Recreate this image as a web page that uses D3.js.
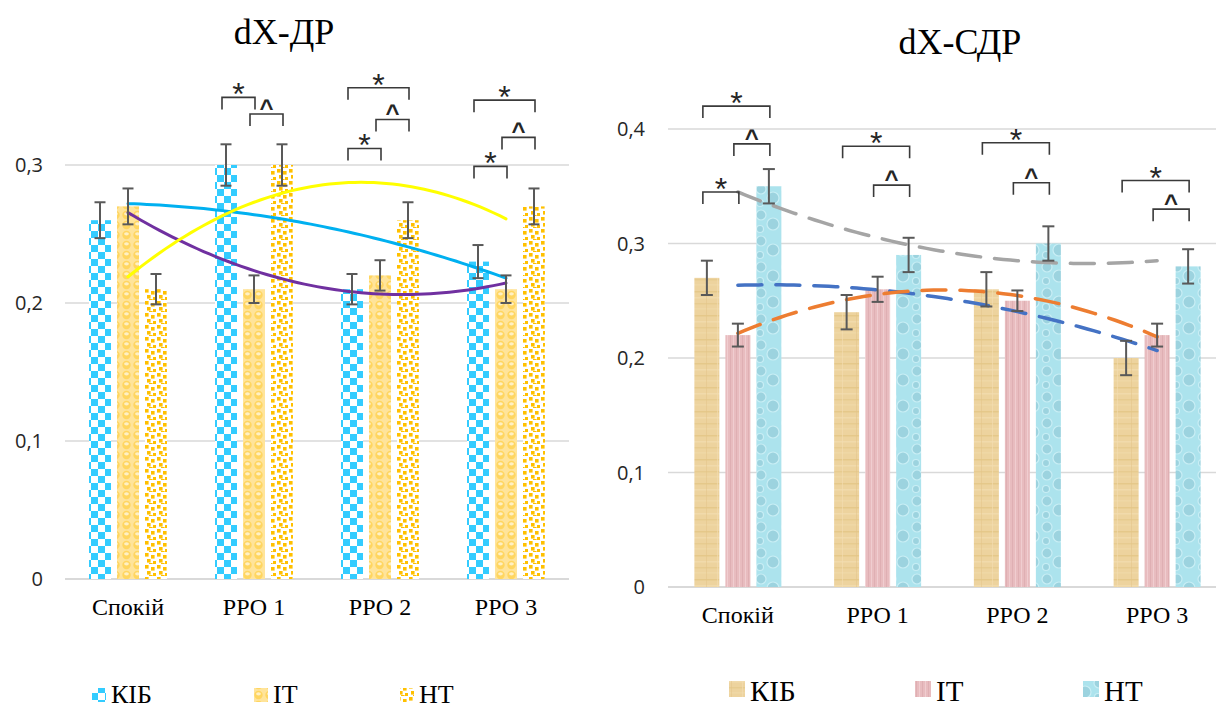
<!DOCTYPE html>
<html>
<head>
<meta charset="utf-8">
<script src="https://cdn.jsdelivr.net/npm/d3@7"></script>
<style>
  body { margin: 0; background: #fff; }
  svg { display: block; }
</style>
</head>
<body>
<svg id="chart" width="1216" height="709"></svg>
<script>
// ---------- data ----------
const categories = ["Спокій", "РРО 1", "РРО 2", "РРО 3"];
const seriesNames = ["КІБ", "ІТ", "НТ"];

// dX-ДР
const drKIB = [0.26, 0.30, 0.21, 0.23];
const drIT  = [0.27, 0.21, 0.22, 0.21];
const drNT  = [0.21, 0.30, 0.26, 0.27];
const drKIBErr = [0.013, 0.015, 0.011, 0.012];
const drITErr  = [0.013, 0.010, 0.011, 0.010];
const drNTErr  = [0.011, 0.015, 0.013, 0.013];
const drTicks = [0, 0.1, 0.2, 0.3];
const drTickLabels = ["0", "0,1", "0,2", "0,3"];
// significance marks: [category, from series, to series, level, sign]
const drMarks = [
  ["РРО 1", 0, 1, 0.349, "*"],
  ["РРО 1", 1, 2, 0.337, "^"],
  ["РРО 2", 0, 2, 0.356, "*"],
  ["РРО 2", 1, 2, 0.333, "^"],
  ["РРО 2", 0, 1, 0.312, "*"],
  ["РРО 3", 0, 2, 0.347, "*"],
  ["РРО 3", 1, 2, 0.320, "^"],
  ["РРО 3", 0, 1, 0.299, "*"]
];

// dX-СДР
const sdrKIB = [0.27, 0.24, 0.26, 0.20];
const sdrIT  = [0.22, 0.26, 0.25, 0.22];
const sdrNT  = [0.35, 0.29, 0.30, 0.28];
const sdrKIBErr = [0.015, 0.015, 0.015, 0.015];
const sdrITErr  = [0.010, 0.011, 0.009, 0.010];
const sdrNTErr  = [0.015, 0.015, 0.015, 0.015];
const sdrTicks = [0, 0.1, 0.2, 0.3, 0.4];
const sdrTickLabels = ["0", "0,1", "0,2", "0,3", "0,4"];
const sdrMarks = [
  ["Спокій", 0, 2, 0.420, "*"],
  ["Спокій", 1, 2, 0.387, "^"],
  ["Спокій", 0, 1, 0.345, "*"],
  ["РРО 1", 0, 2, 0.385, "*"],
  ["РРО 1", 1, 2, 0.351, "^"],
  ["РРО 2", 0, 2, 0.388, "*"],
  ["РРО 2", 1, 2, 0.353, "^"],
  ["РРО 3", 0, 2, 0.355, "*"],
  ["РРО 3", 1, 2, 0.330, "^"]
];

// ---------- helpers ----------
const SERIF = "'Liberation Serif', 'DejaVu Serif', serif";
const SANS = "'Open Sans', 'Liberation Sans', sans-serif";
const svg = d3.select("#chart");
const defs = svg.append("defs");

// quadratic least-squares trend over x = 1..n
function quadFit(vals) {
  let S = [0,0,0,0,0], T = [0,0,0];
  vals.forEach((y, i) => {
    const x = i + 1;
    for (let k = 0; k < 5; k++) S[k] += Math.pow(x, k);
    for (let k = 0; k < 3; k++) T[k] += y * Math.pow(x, k);
  });
  const A = [[S[0],S[1],S[2],T[0]],[S[1],S[2],S[3],T[1]],[S[2],S[3],S[4],T[2]]];
  for (let i = 0; i < 3; i++) {
    for (let j = i + 1; j < 3; j++) {
      const f = A[j][i] / A[i][i];
      for (let k = i; k < 4; k++) A[j][k] -= f * A[i][k];
    }
  }
  const c = [0,0,0];
  for (let i = 2; i >= 0; i--) {
    let s = A[i][3];
    for (let k = i + 1; k < 3; k++) s -= A[i][k] * c[k];
    c[i] = s / A[i][i];
  }
  return x => c[0] + c[1]*x + c[2]*x*x;
}

// ---------- patterns ----------
function pat(id, w, h, build) {
  const p = defs.append("pattern").attr("id", id)
    .attr("patternUnits", "userSpaceOnUse").attr("width", w).attr("height", h);
  build(p);
}
// blue checkerboard
pat("pKIB1", 14, 14, p => {
  p.append("rect").attr("width", 14).attr("height", 14).attr("fill", "#fff");
  p.append("rect").attr("width", 7).attr("height", 7).attr("fill", "#33CCFF");
  p.append("rect").attr("x", 7).attr("y", 7).attr("width", 7).attr("height", 7).attr("fill", "#33CCFF");
});
// yellow bubbles
pat("pIT1", 11, 10, p => {
  p.append("rect").attr("width", 11).attr("height", 10).attr("fill", "#FFE49A");
  p.append("circle").attr("cx", 5.5).attr("cy", 5).attr("r", 4.2).attr("fill", "#FFD660");
  p.append("ellipse").attr("cx", 5.5).attr("cy", 3.8).attr("rx", 2.4).attr("ry", 1.6).attr("fill", "#FFF0C4");
});
// orange confetti squares
pat("pNT1", 12, 12, p => {
  p.append("rect").attr("width", 12).attr("height", 12).attr("fill", "#fff");
  [[1,1],[7,3],[3,7],[9,9],[5,11]].forEach(([x, y]) =>
    p.append("rect").attr("x", x).attr("y", y).attr("width", 3.6).attr("height", 3.6).attr("fill", "#FFC000"));
});
// papyrus
pat("pKIB2", 25, 24, p => {
  p.append("rect").attr("width", 25).attr("height", 24).attr("fill", "#EDD39E");
  [[3,"#E4C685"],[9,"#F2DCAE"],[15,"#E6C98C"],[20,"#F0D8A6"]].forEach(([y, c]) =>
    p.append("rect").attr("x", 0).attr("y", y).attr("width", 25).attr("height", 1.5).attr("fill", c).attr("opacity", 0.8));
  p.append("rect").attr("x", 6).attr("width", 1).attr("height", 24).attr("fill", "#E3C488").attr("opacity", 0.5);
  p.append("rect").attr("x", 17).attr("width", 1).attr("height", 24).attr("fill", "#F3DEB3").attr("opacity", 0.6);
});
// pink stripes
pat("pIT2", 6, 30, p => {
  p.append("rect").attr("width", 6).attr("height", 30).attr("fill", "#E8BCBF");
  p.append("rect").attr("x", 1).attr("width", 1).attr("height", 30).attr("fill", "#F0CDD0");
  p.append("rect").attr("x", 4).attr("width", 1).attr("height", 30).attr("fill", "#DFAFB3");
});
// water drops
pat("pNT2", 26, 26, p => {
  p.append("rect").attr("width", 26).attr("height", 26).attr("fill", "#ACE3ED");
  [[7,7,5],[19,16,6],[6,21,3.5]].forEach(([cx, cy, r]) => {
    p.append("circle").attr("cx", cx).attr("cy", cy).attr("r", r).attr("fill", "#9CD3DF")
      .attr("stroke", "#C8EEF5").attr("stroke-width", 1.2);
  });
});

// ---------- chart builder ----------
function drawChart(cfg) {
  const g = svg.append("g");
  const x0 = d3.scaleBand().domain(categories).range(cfg.xRange).padding(0);
  const x1 = d3.scaleBand().domain(d3.range(3))
    .range([-x0.bandwidth() * cfg.groupFrac / 2, x0.bandwidth() * cfg.groupFrac / 2])
    .paddingInner(cfg.innerPad).paddingOuter(cfg.innerPad / 2);
  const y = d3.scaleLinear().domain([0, cfg.ticks[cfg.ticks.length - 1]]).range(cfg.yRange);
  const cx = c => x0(c) + x0.bandwidth() / 2;
  const barCenter = (c, s) => cx(c) + x1(s) + x1.bandwidth() / 2;

  // gridlines
  g.append("g").selectAll("line").data(cfg.ticks).join("line")
    .attr("x1", cfg.xRange[0]).attr("x2", cfg.xRange[1])
    .attr("y1", d => y(d)).attr("y2", d => y(d))
    .attr("stroke", "#D9D9D9").attr("stroke-width", d => d === 0 ? 2 : 1.5);

  // y tick labels
  g.append("g").selectAll("text").data(cfg.ticks).join("text")
    .attr("x", cfg.labelRight).attr("y", d => y(d)).attr("dy", "0.35em")
    .attr("text-anchor", "end").attr("font-family", SANS)
    .attr("font-size", 20).attr("fill", "#262626")
    .text((d, i) => cfg.tickLabels[i]);

  // x category labels
  g.append("g").selectAll("text").data(categories).join("text")
    .attr("x", d => cx(d)).attr("y", cfg.xLabelY).attr("text-anchor", "middle")
    .attr("font-family", SERIF).attr("font-size", 24)
    .attr("fill", "#000").text(d => d);

  // bars
  cfg.series.forEach((vals, s) => {
    g.append("g").selectAll("rect").data(vals).join("rect")
      .attr("x", (d, i) => cx(categories[i]) + x1(s))
      .attr("width", x1.bandwidth())
      .attr("y", d => y(d)).attr("height", d => y(0) - y(d))
      .attr("fill", `url(#${cfg.patterns[s]})`);
  });

  // trendlines
  const step = x0.step();
  cfg.series.forEach((vals, s) => {
    const f = quadFit(vals);
    const pts = d3.range(0, 61).map(k => {
      const t = 1 + 3 * k / 60;
      return [cx(categories[0]) + (t - 1) * step, y(f(t))];
    });
    const path = g.append("path").attr("d", d3.line()(pts))
      .attr("fill", "none").attr("stroke", cfg.trendColors[s])
      .attr("stroke-width", cfg.trendWidth).attr("stroke-linecap", "round");
    if (cfg.dash) path.attr("stroke-dasharray", cfg.dash);
  });

  // error bars
  cfg.errors.forEach((errs, s) => {
    const eg = g.append("g").attr("stroke", "#595959").attr("stroke-width", 2);
    cfg.series[s].forEach((v, i) => {
      const bx = barCenter(categories[i], s);
      const hi = y(v + errs[i]), lo = y(v - errs[i]);
      eg.append("line").attr("x1", bx).attr("x2", bx).attr("y1", hi).attr("y2", lo);
      eg.append("line").attr("x1", bx - cfg.cap / 2).attr("x2", bx + cfg.cap / 2).attr("y1", hi).attr("y2", hi);
      eg.append("line").attr("x1", bx - cfg.cap / 2).attr("x2", bx + cfg.cap / 2).attr("y1", lo).attr("y2", lo);
    });
  });

  // significance brackets
  const mg = g.append("g");
  cfg.marks.forEach(([cat, a, b, level, sign]) => {
    const xa = barCenter(cat, a) - 4, xb = barCenter(cat, b) + 1;
    const yy = y(level);
    mg.append("path")
      .attr("d", `M${xa},${yy + 12}L${xa},${yy}L${xb},${yy}L${xb},${yy + 12}`)
      .attr("fill", "none").attr("stroke", "#3A3A3A").attr("stroke-width", 1.6);
    const star = sign === "*";
    mg.append("text").attr("x", (xa + xb) / 2)
      .attr("y", star ? yy + 8 : yy + 2)
      .attr("text-anchor", "middle")
      .attr("font-family", "'Liberation Sans', Arial, sans-serif")
      .attr("font-weight", star ? "normal" : "bold")
      .attr("font-size", star ? 32 : 24)
      .attr("fill", "#262626").text(sign);
  });

  // title
  g.append("text").attr("x", cfg.titleX).attr("y", cfg.titleY).attr("text-anchor", "middle")
    .attr("font-family", SERIF).attr("font-size", 36)
    .attr("fill", "#000").text(cfg.title);

  // legend
  const lg = g.append("g");
  seriesNames.forEach((name, s) => {
    const lx = cfg.legendX[s];
    lg.append("rect").attr("x", lx).attr("y", cfg.legendY - cfg.legendBox / 2 - 1)
      .attr("width", cfg.legendBox).attr("height", cfg.legendBox)
      .attr("fill", `url(#${cfg.patterns[s]})`);
    lg.append("text").attr("x", lx + cfg.legendBox + 5).attr("y", cfg.legendBase)
      .attr("font-family", SERIF).attr("font-weight", "normal").attr("font-size", cfg.legendFont)
      .attr("fill", "#000").text(name);
  });
}

drawChart({
  title: "dX-ДР", titleX: 284, titleY: 44,
  xRange: [65, 569], yRange: [579, 165], groupFrac: 84 / 126, innerPad: 6 / 28,
  ticks: drTicks, tickLabels: drTickLabels, labelRight: 43, xLabelY: 615,
  series: [drKIB, drIT, drNT], errors: [drKIBErr, drITErr, drNTErr],
  patterns: ["pKIB1", "pIT1", "pNT1"],
  trendColors: ["#00B0F0", "#7030A0", "#FFFF00"], trendWidth: 3, dash: null,
  cap: 11, marks: drMarks,
  legendX: [92, 254, 400], legendY: 696, legendBase: 703, legendBox: 14, legendFont: 26
});

drawChart({
  title: "dX-СДР", titleX: 960, titleY: 54,
  xRange: [668, 1227], yRange: [587, 129], groupFrac: 93 / 139.75, innerPad: 6 / 31,
  ticks: sdrTicks, tickLabels: sdrTickLabels, labelRight: 645, xLabelY: 623,
  series: [sdrKIB, sdrIT, sdrNT], errors: [sdrKIBErr, sdrITErr, sdrNTErr],
  patterns: ["pKIB2", "pIT2", "pNT2"],
  trendColors: ["#4472C4", "#ED7D31", "#A5A5A5"], trendWidth: 3.5, dash: "24 14",
  cap: 12, marks: sdrMarks,
  legendX: [729, 915, 1083], legendY: 690, legendBase: 701, legendBox: 16, legendFont: 29
});
</script>
</body>
</html>
